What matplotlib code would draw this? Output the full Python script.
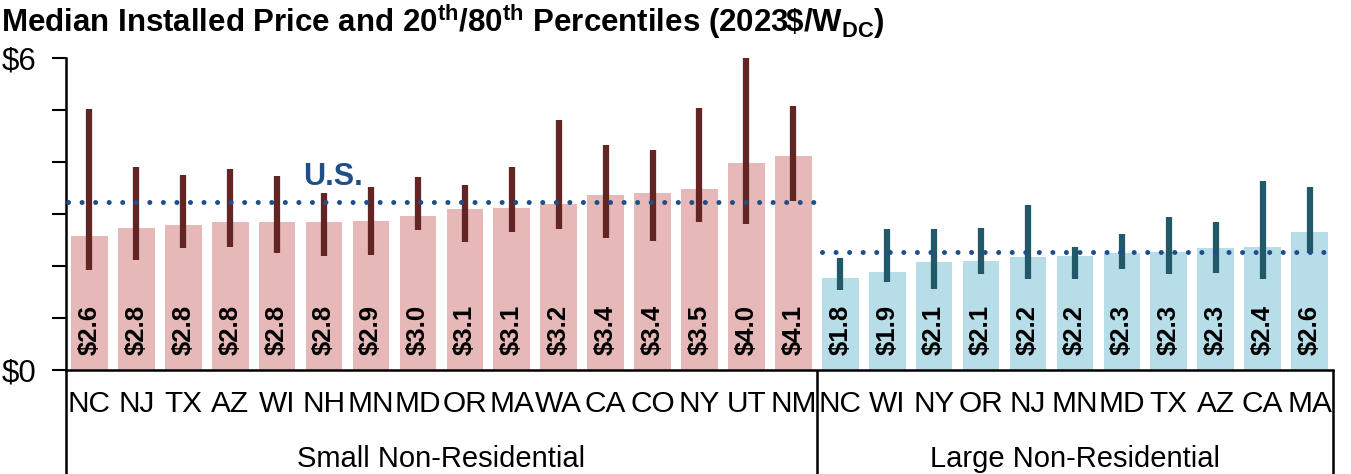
import numpy as np
import matplotlib
matplotlib.use("Agg")
import matplotlib.pyplot as plt
import matplotlib.transforms as mtransforms

# ── Data ─────────────────────────────────────────────────────────────
small_states = ["NC", "NJ", "TX", "AZ", "WI", "NH", "MN", "MD", "OR", "MA",
                "WA", "CA", "CO", "NY", "UT", "NM"]
small_median = [2.57, 2.74, 2.79, 2.84, 2.84, 2.84, 2.86, 2.97, 3.09, 3.12,
                3.19, 3.36, 3.41, 3.48, 3.98, 4.11]
small_p20 = [1.92, 2.12, 2.34, 2.37, 2.25, 2.19, 2.22, 2.70, 2.47, 2.66,
             2.71, 2.55, 2.49, 2.84, 2.81, 3.26]
small_p80 = [5.02, 3.91, 3.75, 3.87, 3.74, 3.40, 3.52, 3.72, 3.57, 3.91,
             4.81, 4.34, 4.24, 5.05, 6.00, 5.08]
small_labels = ["$2.6", "$2.8", "$2.8", "$2.8", "$2.8", "$2.8", "$2.9", "$3.0",
                "$3.1", "$3.1", "$3.2", "$3.4", "$3.4", "$3.5", "$4.0", "$4.1"]
small_us = 3.23

large_states = ["NC", "WI", "NY", "OR", "NJ", "MN", "MD", "TX", "AZ", "CA", "MA"]
large_median = [1.78, 1.88, 2.08, 2.10, 2.17, 2.20, 2.25, 2.27, 2.34, 2.37, 2.65]
large_p20 = [1.54, 1.70, 1.56, 1.85, 1.75, 1.75, 1.94, 1.85, 1.87, 1.75, 2.25]
large_p80 = [2.16, 2.71, 2.71, 2.73, 3.18, 2.36, 2.61, 2.95, 2.85, 3.64, 3.53]
large_labels = ["$1.8", "$1.9", "$2.1", "$2.1", "$2.2", "$2.2", "$2.3", "$2.3",
                "$2.3", "$2.4", "$2.6"]
large_us = 2.27

groups = ["Small Non-Residential", "Large Non-Residential"]

# ── Style ────────────────────────────────────────────────────────────
SMALL_BAR, SMALL_ERR = "#E6B9B8", "#632523"
LARGE_BAR, LARGE_ERR = "#B7DEE8", "#215968"
US_BLUE = "#1F4E88"
FONT = ["Liberation Sans", "DejaVu Sans"]
plt.rcParams.update({"font.family": FONT, "font.size": 21,
                     "mathtext.fontset": "custom",
                     "mathtext.rm": "Liberation Sans:bold",
                     "mathtext.bf": "Liberation Sans:bold"})

fig = plt.figure(figsize=(13.51, 4.74), dpi=100)
ax = fig.add_axes([66 / 1351, 104 / 474, (1333 - 66) / 1351, (370 - 58.3) / 474])

n_s, n_l = len(small_states), len(large_states)
xs = np.arange(n_s)
xl = np.arange(n_s, n_s + n_l)

ax.bar(xs, small_median, width=0.78, color=SMALL_BAR, zorder=1)
ax.bar(xl, large_median, width=0.78, color=LARGE_BAR, zorder=1)
ax.vlines(xs, small_p20, small_p80, color=SMALL_ERR, lw=4.5, zorder=2)
ax.vlines(xl, large_p20, large_p80, color=LARGE_ERR, lw=4.5, zorder=2)

dot_kw = dict(color=US_BLUE, lw=3.6, dash_capstyle="round", zorder=3)
l1, = ax.plot([-0.45, n_s - 0.5], [small_us, small_us], **dot_kw)
l2, = ax.plot([n_s - 0.4, n_s + n_l - 0.5], [large_us, large_us], **dot_kw)
for ln in (l1, l2):
    ln.set_dashes((0.01, 2.7))
ax.text(5.2, small_us + 0.2, "U.S.", color=US_BLUE, fontsize=22,
        fontweight="bold", ha="center", va="bottom")

for x, lab in zip(np.concatenate([xs, xl]), small_labels + large_labels):
    ax.text(x, 0.29, lab, rotation=90, ha="center", va="bottom",
            fontsize=18.5, fontweight="bold", color="black")

ax.set_xlim(-0.5, n_s + n_l - 0.5)
ax.set_ylim(0, 6)
ax.set_yticks(range(7))
ax.set_yticklabels(["$0", "", "", "", "", "", "$6"])
ax.tick_params(axis="y", length=10, width=1.5, direction="out", pad=11,
               labelsize=22.5)
ax.set_xticks([])
for s in ("top", "right"):
    ax.spines[s].set_visible(False)
ax.spines["left"].set_linewidth(1.8)
ax.spines["bottom"].set_linewidth(1.8)

# category and group labels below the axis
trans = mtransforms.blended_transform_factory(ax.transData, ax.transAxes)
for x, st in zip(np.concatenate([xs, xl]), small_states + large_states):
    ax.text(x, -0.11, st, transform=trans, ha="center", va="center",
            fontsize=21.5)
ax.text((n_s - 1) / 2, -0.285, groups[0], transform=trans, ha="center",
        va="center", fontsize=21)
ax.text(n_s + (n_l - 1) / 2, -0.285, groups[1], transform=trans, ha="center",
        va="center", fontsize=21)
for xb in (-0.5, n_s - 0.5, n_s + n_l - 0.5):
    ax.plot([xb, xb], [0, -0.34], transform=trans, color="black", lw=1.8,
            clip_on=False, solid_capstyle="butt")

# title with super/subscripts
title = (r"Median Installed Price and 20$^{\mathrm{th}}$/80$^{\mathrm{th}}$ "
         r"Percentiles (2023\$/W$_{\mathrm{DC}}$)")
fig.text(0.001, 0.995, title, ha="left", va="top", fontsize=22.5,
         fontweight="bold")

fig.savefig("out.png", dpi=100)
